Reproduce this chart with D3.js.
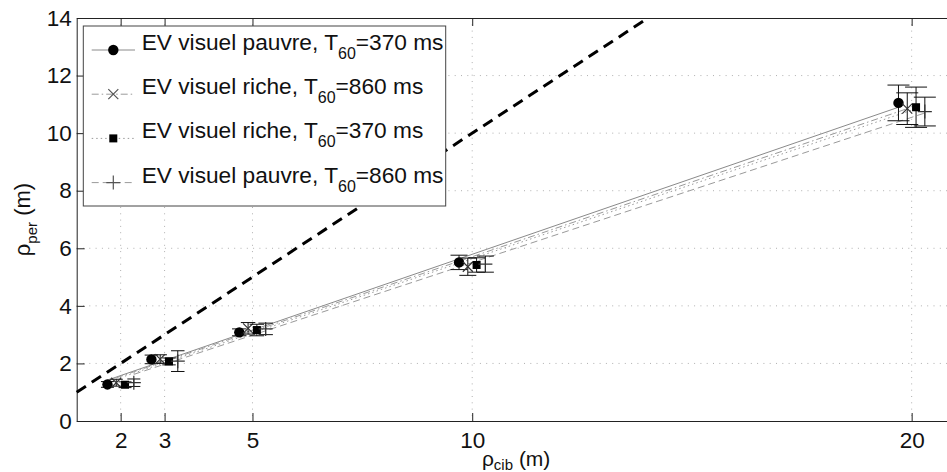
<!DOCTYPE html>
<html>
<head>
<meta charset="utf-8">
<script src="https://cdn.jsdelivr.net/npm/d3@7"></script>
<style>
  body { margin: 0; background: #fff; }
  svg { display: block; font-family: "Liberation Sans", Arial, Helvetica, sans-serif; }
</style>
</head>
<body>
<script>
// target distances (x ticks) and y ticks
var xTicks = [2, 3, 5, 10, 20];
var yTicks = [0, 2, 4, 6, 8, 10, 12, 14];

// legend text of each series
var seriesLabel = ["EV visuel pauvre, T", "EV visuel riche, T", "EV visuel riche, T", "EV visuel pauvre, T"];
var seriesT60 = ["=370 ms", "=860 ms", "=370 ms", "=860 ms"];

// plotted x positions (slightly shifted around each target)
var xPauvre370 = [1.7, 2.7, 4.7, 9.7, 19.7];
var xRiche860 = [1.9, 2.9, 4.9, 9.9, 19.9];
var xRiche370 = [2.1, 3.1, 5.1, 10.1, 20.1];
var xPauvre860 = [2.3, 3.3, 5.3, 10.3, 20.3];

// mean perceived distance
var yPauvre370 = [1.27, 2.14, 3.08, 5.51, 11.05];
var yRiche860 = [1.33, 2.15, 3.22, 5.36, 10.85];
var yRiche370 = [1.26, 2.07, 3.16, 5.42, 10.9];
var yPauvre860 = [1.33, 2.08, 3.2, 5.45, 10.75];

// error bar half heights
var ePauvre370 = [0.1, 0.15, 0.12, 0.25, 0.62];
var eRiche860 = [0.12, 0.15, 0.2, 0.3, 0.55];
var eRiche370 = [0.1, 0.12, 0.2, 0.25, 0.7];
var ePauvre860 = [0.13, 0.36, 0.2, 0.28, 0.5];

// fitted lines: [x start, x end] and [y start, y end]
var fitX = [[1.7, 19.7], [1.9, 19.9], [2.1, 20.1], [2.3, 20.3]];
var fitY = [[1.42, 10.9], [1.5, 10.85], [1.56, 10.85], [1.62, 10.7]];

// y = x reference line
var diagX = [1, 14];
var diagY = [1, 14];

function main() {
    var width = 947;
    var height = 472;

    var svg = d3.select('body')
                .append('svg')
                .attr('width', width)
                .attr('height', height);

    var x = d3.scaleLinear().domain([1, 21]).range([76.7, 955.6]);
    var y = d3.scaleLinear().domain([0, 14]).range([421, 18]);

    var series = [
        {xs: xPauvre370, ys: yPauvre370, es: ePauvre370, marker: "circle", dash: null, color: "#8a8a8a"},
        {xs: xRiche860, ys: yRiche860, es: eRiche860, marker: "x", dash: "7,3,1.5,3", color: "#9a9a9a"},
        {xs: xRiche370, ys: yRiche370, es: eRiche370, marker: "square", dash: "1.5,3", color: "#9a9a9a"},
        {xs: xPauvre860, ys: yPauvre860, es: ePauvre860, marker: "plus", dash: "7,4", color: "#9a9a9a"}
    ];

    // grid
    var grid = svg.append('g').attr('stroke', '#b0b0b0').attr('stroke-dasharray', '1,5.3');
    grid.selectAll('.gx').data(xTicks).enter().append('line')
        .attr('x1', function(d) { return x(d); }).attr('x2', function(d) { return x(d); })
        .attr('y1', y(14)).attr('y2', y(0));
    grid.selectAll('.gy').data(yTicks.slice(1, -1)).enter().append('line')
        .attr('y1', function(d) { return y(d); }).attr('y2', function(d) { return y(d); })
        .attr('x1', x(1)).attr('x2', x(21));

    // axes
    var xAxis = d3.axisBottom(x).tickValues(xTicks).tickSize(-8).tickSizeOuter(0).tickPadding(11);
    var yAxis = d3.axisLeft(y).tickValues(yTicks).tickSize(-8).tickSizeOuter(0).tickPadding(5);
    var xTop = d3.axisTop(x).tickValues(xTicks).tickSize(-8).tickSizeOuter(0).tickFormat('');

    var gx = svg.append('g').attr('transform', 'translate(0,' + y(0) + ')').call(xAxis);
    var gy = svg.append('g').attr('transform', 'translate(' + x(1) + ',0)').call(yAxis);
    var gt = svg.append('g').attr('transform', 'translate(0,' + y(14) + ')').call(xTop);
    [gx, gy, gt].forEach(function(g) {
        g.selectAll('path').attr('stroke', '#222');
        g.selectAll('line').attr('stroke', '#222');
        g.selectAll('text').attr('font-size', 22.5).attr('fill', '#111')
         .attr('font-family', '"Liberation Sans", Arial, sans-serif');
    });

    // axis labels
    var xl = svg.append('text').attr('x', (x(1) + x(21)) / 2).attr('y', 466)
                .attr('text-anchor', 'middle').attr('font-size', 21).attr('fill', '#111');
    xl.append('tspan').text('ρ');
    xl.append('tspan').attr('dy', 4).attr('font-size', 15).text('cib');
    xl.append('tspan').attr('dy', -4).text(' (m)');

    var yl = svg.append('text').attr('transform', 'translate(30,' + (y(0) + y(14)) / 2 + ') rotate(-90)')
                .attr('text-anchor', 'middle').attr('font-size', 22).attr('fill', '#111');
    yl.append('tspan').text('ρ');
    yl.append('tspan').attr('dy', 7).attr('font-size', 15).text('per');
    yl.append('tspan').attr('dy', -7).text(' (m)');

    // y = x dashed line
    svg.append('line')
       .attr('x1', x(diagX[0])).attr('y1', y(diagY[0]))
       .attr('x2', x(diagX[1])).attr('y2', y(diagY[1]))
       .attr('stroke', '#000').attr('stroke-width', 3).attr('stroke-dasharray', '11,7');

    // fit lines
    series.forEach(function(s, i) {
        svg.append('line')
           .attr('x1', x(fitX[i][0])).attr('y1', y(fitY[i][0]))
           .attr('x2', x(fitX[i][1])).attr('y2', y(fitY[i][1]))
           .attr('stroke', s.color).attr('stroke-width', 1)
           .attr('stroke-dasharray', s.dash);
    });

    function drawMarker(g, kind, cx, cy, col) {
        if (kind === "circle") {
            g.append('circle').attr('cx', cx).attr('cy', cy).attr('r', 5.2).attr('fill', '#000');
        } else if (kind === "square") {
            g.append('rect').attr('x', cx - 4).attr('y', cy - 4).attr('width', 8).attr('height', 8).attr('fill', '#000');
        } else if (kind === "x") {
            g.append('path').attr('d', 'M' + (cx - 5) + ',' + (cy - 5) + 'L' + (cx + 5) + ',' + (cy + 5) +
                                      'M' + (cx - 5) + ',' + (cy + 5) + 'L' + (cx + 5) + ',' + (cy - 5))
             .attr('stroke', col).attr('stroke-width', 1.2).attr('fill', 'none');
        } else {
            g.append('path').attr('d', 'M' + (cx - 7) + ',' + cy + 'L' + (cx + 7) + ',' + cy +
                                      'M' + cx + ',' + (cy - 7) + 'L' + cx + ',' + (cy + 7))
             .attr('stroke', col).attr('stroke-width', 1.2).attr('fill', 'none');
        }
    }

    // error bars + markers
    series.forEach(function(s) {
        var g = svg.append('g');
        s.xs.forEach(function(xv, j) {
            var cx = x(xv);
            var top = y(s.ys[j] + s.es[j]);
            var bot = y(s.ys[j] - s.es[j]);
            var cap = 6 + 0.25 * xTicks[j];
            g.append('path')
             .attr('d', 'M' + cx + ',' + top + 'L' + cx + ',' + bot +
                        'M' + (cx - cap) + ',' + top + 'L' + (cx + cap) + ',' + top +
                        'M' + (cx - cap) + ',' + bot + 'L' + (cx + cap) + ',' + bot)
             .attr('stroke', '#111').attr('stroke-width', 1).attr('fill', 'none');
            drawMarker(g, s.marker, cx, y(s.ys[j]), '#333');
        });
    });

    // legend
    var lg = svg.append('g');
    lg.append('rect').attr('x', 83.3).attr('y', 26).attr('width', 362.4).attr('height', 180)
      .attr('fill', '#fff').attr('stroke', '#444').attr('stroke-width', 1);
    series.forEach(function(s, i) {
        var ly = 50 + i * 44.2;
        lg.append('line').attr('x1', 91.7).attr('x2', 135).attr('y1', ly).attr('y2', ly)
          .attr('stroke', s.color).attr('stroke-width', 1).attr('stroke-dasharray', s.dash);
        drawMarker(lg, s.marker, 113.3, ly, '#555');
        var t = lg.append('text').attr('x', 141.7).attr('y', ly).attr('font-size', 22.7).attr('fill', '#111');
        t.append('tspan').text(seriesLabel[i]);
        t.append('tspan').attr('dy', 9).attr('font-size', 16).text('60');
        t.append('tspan').attr('dy', -9).text(seriesT60[i]);
    });
}
main();
</script>
</body>
</html>
